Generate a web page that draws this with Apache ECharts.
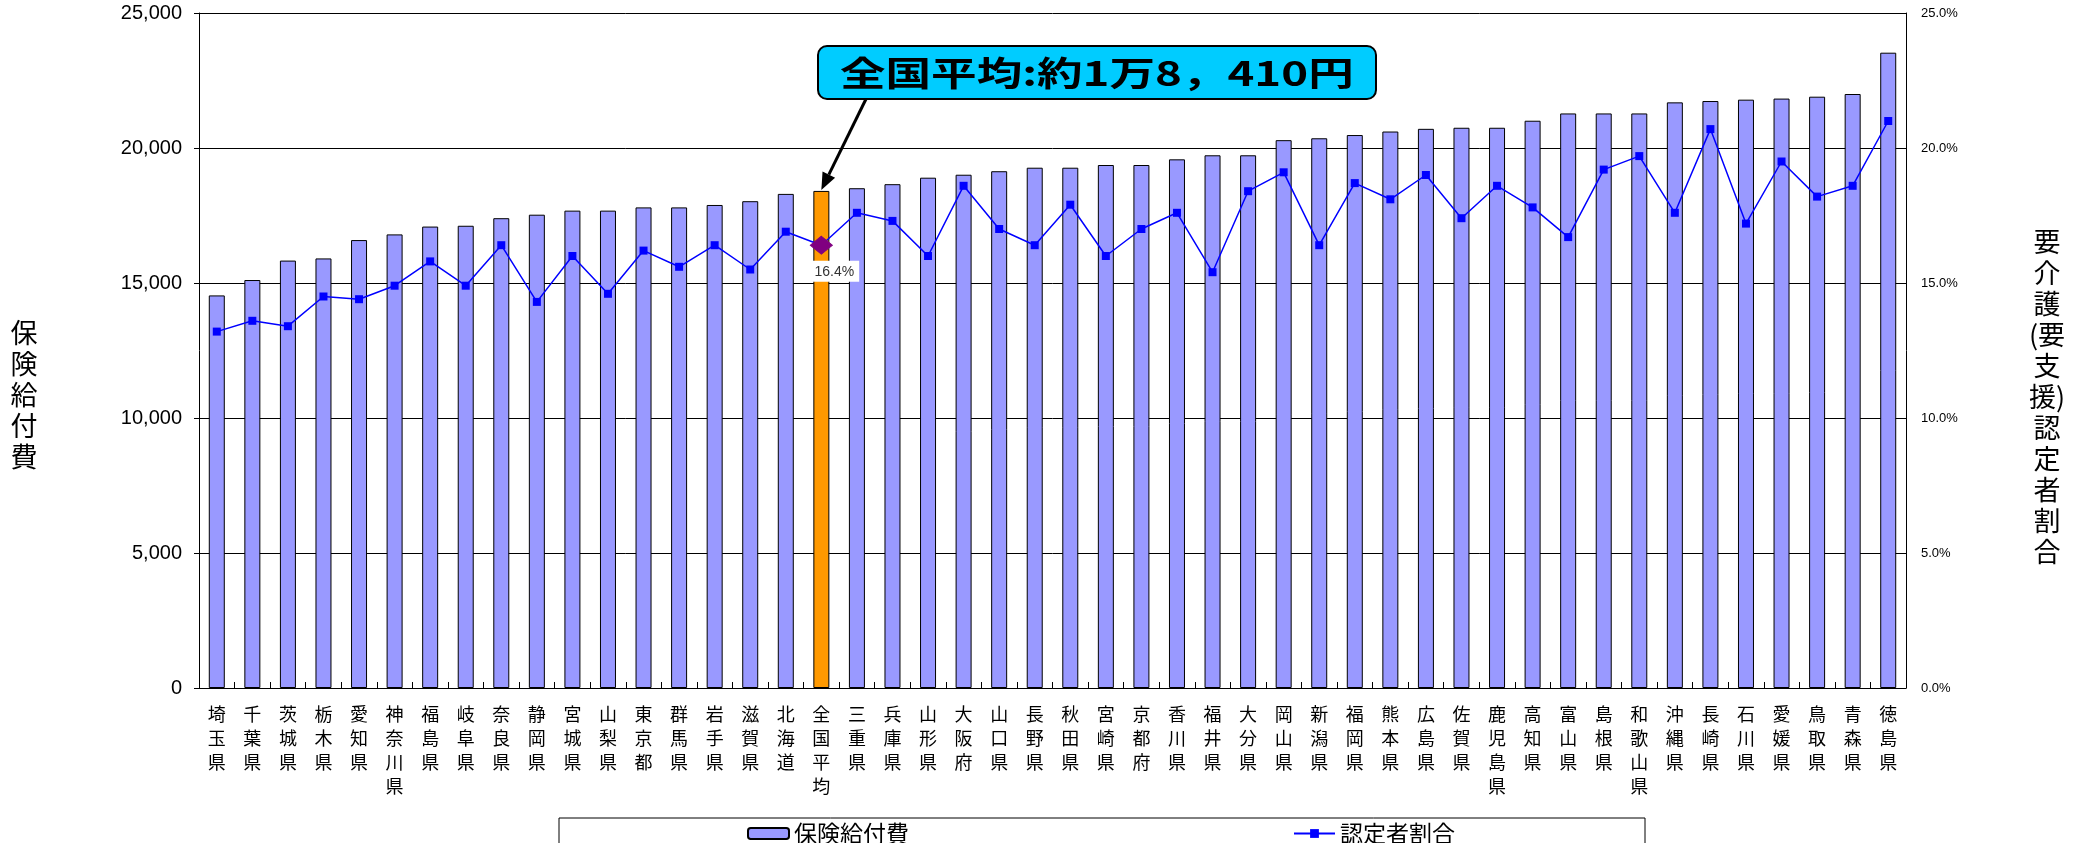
<!DOCTYPE html>
<html>
<head>
<meta charset="utf-8">
<script src="https://cdn.jsdelivr.net/npm/echarts@6/dist/echarts.min.js"></script>
<style>
html, body { margin: 0; padding: 0; background: #fff; }
#main { width: 2080px; height: 843px; }
</style>
</head>
<body>
<div id="main"></div>
<script>
// 都道府県（給付費の少ない順）
var categories = ['埼玉県', '千葉県', '茨城県', '栃木県', '愛知県', '神奈川県', '福島県', '岐阜県', '奈良県', '静岡県',
	'宮城県', '山梨県', '東京都', '群馬県', '岩手県', '滋賀県', '北海道', '全国平均', '三重県', '兵庫県',
	'山形県', '大阪府', '山口県', '長野県', '秋田県', '宮崎県', '京都府', '香川県', '福井県', '大分県',
	'岡山県', '新潟県', '福岡県', '熊本県', '広島県', '佐賀県', '鹿児島県', '高知県', '富山県', '島根県',
	'和歌山県', '沖縄県', '長崎県', '石川県', '愛媛県', '鳥取県', '青森県', '徳島県'];

// 保険給付費（円）
var benefit = [14540, 15110, 15830, 15910, 16590, 16800, 17090, 17120, 17400, 17530,
	17680, 17680, 17800, 17800, 17890, 18030, 18300, 18410, 18510, 18660,
	18900, 19010, 19140, 19270, 19270, 19370, 19370, 19580, 19730, 19730,
	20290, 20360, 20480, 20610, 20710, 20750, 20750, 21010, 21280, 21280,
	21280, 21690, 21740, 21790, 21830, 21900, 22000, 23530];

// 要介護（要支援）認定者割合（％）
var ratio = [13.2, 13.6, 13.4, 14.5, 14.4, 14.9, 15.8, 14.9, 16.4, 14.3,
	16.0, 14.6, 16.2, 15.6, 16.4, 15.5, 16.9, 16.4, 17.6, 17.3,
	16.0, 18.6, 17.0, 16.4, 17.9, 16.0, 17.0, 17.6, 15.4, 18.4,
	19.1, 16.4, 18.7, 18.1, 19.0, 17.4, 18.6, 17.8, 16.7, 19.2,
	19.7, 17.6, 20.7, 17.2, 19.5, 18.2, 18.6, 21.0];

var leftTicks = [0, 5000, 10000, 15000, 20000, 25000];
var rightTicks = [0, 5, 10, 15, 20, 25];

var avgName = '全国平均';
var avgText = '全国平均:約1万8，410円';

var jp = '"Noto Sans CJK JP", sans-serif';
var num = '"Liberation Sans", Arial, sans-serif';

function comma(v) {
	return String(v).replace(/\B(?=(\d{3})+(?!\d))/g, ',');
}

function vertical(s) {
	return s.split('').join('\n');
}

var barData = [];
var lineData = [];
for (var i = 0; i < categories.length; i++) {
	if (categories[i] == avgName) {
		barData.push({ value: benefit[i], itemStyle: { color: '#FF9900' } });
		lineData.push({
			value: ratio[i],
			symbol: 'diamond',
			symbolSize: [22, 18],
			itemStyle: { color: '#800080', borderColor: '#800080' },
			label: {
				show: true,
				position: 'bottom',
				distance: 6,
				offset: [13, 0],
				formatter: function(p) { return p.value.toFixed(1) + '%'; },
				backgroundColor: '#fff',
				padding: [4, 5, 3, 5],
				fontSize: 14,
				fontFamily: num,
				color: '#333'
			}
		});
	} else {
		barData.push(benefit[i]);
		lineData.push(ratio[i]);
	}
}

var chart = echarts.init(document.getElementById('main'));

var option = {
	animation: false,
	backgroundColor: '#fff',
	grid: { left: 199, right: 174, top: 13, bottom: 155 },
	legend: {
		left: 559,
		top: 818,
		padding: [4, 190, 6, 188],
		itemGap: 384,
		itemWidth: 41,
		itemHeight: 11,
		borderColor: '#000',
		borderWidth: 1,
		textStyle: { fontSize: 23, color: '#000', fontFamily: jp },
		data: ['保険給付費', '認定者割合']
	},
	xAxis: {
		type: 'category',
		data: categories,
		axisLine: { lineStyle: { color: '#000', width: 1 } },
		axisTick: { show: true, inside: true, length: 6, interval: 0, lineStyle: { color: '#000' } },
		axisLabel: {
			interval: 0,
			margin: 14,
			fontSize: 18,
			lineHeight: 24,
			color: '#000',
			fontFamily: jp,
			formatter: vertical
		}
	},
	yAxis: [{
		type: 'value',
		min: leftTicks[0],
		max: leftTicks[leftTicks.length - 1],
		interval: leftTicks[1] - leftTicks[0],
		axisLine: { show: true, lineStyle: { color: '#000', width: 1 } },
		axisTick: { show: true, length: 5, lineStyle: { color: '#000' } },
		splitLine: { show: true, lineStyle: { color: '#000', width: 1 } },
		axisLabel: { margin: 17, fontSize: 20, color: '#000', fontFamily: num, formatter: comma }
	}, {
		type: 'value',
		min: rightTicks[0],
		max: rightTicks[rightTicks.length - 1],
		interval: rightTicks[1] - rightTicks[0],
		position: 'right',
		axisLine: { show: true, lineStyle: { color: '#000', width: 1 } },
		axisTick: { show: true, inside: true, length: 5, lineStyle: { color: '#000' } },
		splitLine: { show: false },
		axisLabel: {
			margin: 15, fontSize: 13, color: '#000', fontFamily: num,
			formatter: function(v) { return v.toFixed(1) + '%'; }
		}
	}],
	series: [{
		name: '保険給付費',
		type: 'bar',
		barWidth: 16,
		itemStyle: { color: '#9999FF', borderColor: '#000', borderWidth: 1 },
		data: barData
	}, {
		name: '認定者割合',
		type: 'line',
		yAxisIndex: 1,
		symbol: 'rect',
		symbolSize: 8,
		lineStyle: { color: '#0000FF', width: 1.5 },
		itemStyle: { color: '#0000FF' },
		data: lineData
	}],
	graphic: [{
		type: 'text',
		x: 24,
		y: 395,
		style: {
			text: vertical('保険給付費'),
			font: '27px ' + jp,
			lineHeight: 31,
			fill: '#000',
			textAlign: 'center',
			textVerticalAlign: 'middle'
		}
	}, {
		type: 'text',
		x: 2047,
		y: 397,
		style: {
			text: ['要', '介', '護', '(要', '支', '援)', '認', '定', '者', '割', '合'].join('\n'),
			font: '27px ' + jp,
			lineHeight: 31,
			fill: '#000',
			textAlign: 'center',
			textVerticalAlign: 'middle'
		}
	}, {
		type: 'rect',
		id: 'callout',
		shape: { x: 818, y: 46, width: 558, height: 53, r: 9 },
		style: { fill: '#00CCFF', stroke: '#000', lineWidth: 2 },
		z: 10
	}, {
		type: 'text',
		x: 840,
		y: 73,
		scaleX: 1.34,
		style: {
			text: avgText,
			font: 'bold 34px ' + jp,
			fill: '#000',
			textAlign: 'left',
			textVerticalAlign: 'middle'
		},
		z: 11
	}]
};

chart.setOption(option);

// 矢印：吹き出しから全国平均の棒の先端へ
var avgIndex = categories.indexOf(avgName);
var tip = chart.convertToPixel({ xAxisIndex: 0, yAxisIndex: 0 }, [avgIndex, benefit[avgIndex]]);
var start = [866, 99];
var dx = tip[0] - start[0], dy = tip[1] - 1 - start[1];
var len = Math.sqrt(dx * dx + dy * dy);
var ux = dx / len, uy = dy / len;
var head = 17, half = 7;
var end = [tip[0], tip[1] - 1];
var base = [end[0] - ux * head, end[1] - uy * head];
chart.setOption({
	graphic: [{
		type: 'line',
		id: 'arrowLine',
		shape: { x1: start[0], y1: start[1], x2: base[0], y2: base[1] },
		style: { stroke: '#000', lineWidth: 3 },
		z: 12
	}, {
		type: 'polygon',
		id: 'arrowHead',
		shape: { points: [end, [base[0] - uy * half, base[1] + ux * half], [base[0] + uy * half, base[1] - ux * half]] },
		style: { fill: '#000' },
		z: 12
	}]
});
</script>
</body>
</html>
